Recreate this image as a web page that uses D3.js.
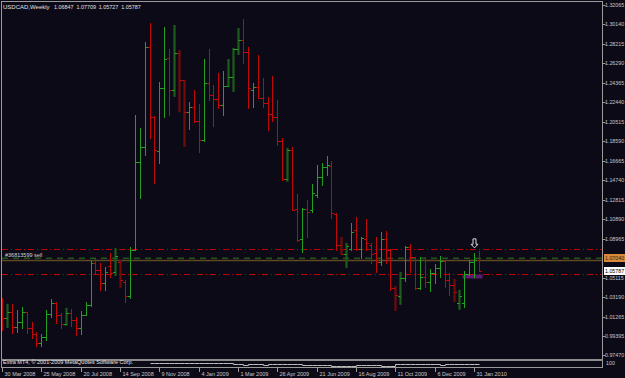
<!DOCTYPE html>
<html>
<head>
<meta charset="utf-8">
<script src="https://cdn.jsdelivr.net/npm/d3@7"></script>
<style>
  html, body { margin: 0; padding: 0; background: #0d0a18; }
  svg { display: block; }
</style>
</head>
<body>
<div id="chart"></div>
<script>
// weekly USDCAD bars, 30 Mar 2008 .. 7 Feb 2010
const symbol = "USDCAD,Weekly";
const firstWeek = "30 Mar 2008";
const lastWeek = "7 Feb 2010";

const opens = [1.0243,1.0114,1.0173,1.0025,1.0075,1.0173,1.0015,0.9956,0.9867,0.9926,
  1.0154,1.0262,1.0144,1.0055,1.0164,1.0094,1.0015,1.0144,1.0243,1.0658,
  1.0588,1.0460,1.0628,1.0569,1.0667,1.0470,1.0332,1.0786,1.1655,1.1804,
  1.2792,1.2100,1.1764,1.2387,1.2683,1.2367,1.2732,1.2466,1.2149,1.2199,
  1.2061,1.1873,1.2436,1.2317,1.2278,1.2219,1.2406,1.2495,1.2772,1.2861,
  1.2742,1.2367,1.2396,1.2288,1.2238,1.2130,1.2100,1.1863,1.1488,1.1774,
  1.1191,1.0895,1.1191,1.1181,1.1329,1.1507,1.1606,1.1616,1.1142,1.0835,
  1.0747,1.0796,1.0984,1.0796,1.0895,1.0835,1.0756,1.0667,1.0895,1.0786,
  1.0411,1.0332,1.0509,1.0816,1.0717,1.0411,1.0519,1.0470,1.0559,1.0608,
  1.0677,1.0490,1.0440,1.0262,1.0262,1.0549,1.0667,1.06847];

const highs = [1.0312,1.0253,1.0253,1.0193,1.0223,1.0173,1.0075,0.9976,0.9956,1.0193,
  1.0302,1.0272,1.0164,1.0213,1.0203,1.0124,1.0183,1.0272,1.0677,1.0707,
  1.0658,1.0618,1.0756,1.0806,1.0687,1.0490,1.0816,1.2120,1.1991,1.2841,
  1.3029,1.2110,1.2446,1.2989,1.2772,1.3009,1.2762,1.2466,1.2248,1.2367,
  1.2229,1.2673,1.2772,1.2416,1.2535,1.2555,1.2673,1.2782,1.2979,1.3068,
  1.2792,1.2436,1.2713,1.2485,1.2298,1.2505,1.2268,1.1893,1.1794,1.1804,
  1.1339,1.1201,1.1280,1.1438,1.1626,1.1646,1.1715,1.1665,1.1152,1.0914,
  1.0855,1.1053,1.1112,1.0914,1.1092,1.0855,1.0914,1.0964,1.0974,1.0796,
  1.0430,1.0569,1.0826,1.0845,1.0717,1.0717,1.0717,1.0598,1.0648,1.0727,
  1.0677,1.0559,1.0500,1.0391,1.0579,1.0687,1.0756,1.07709];

const lows = [0.9996,1.0015,0.9966,0.9976,1.0015,0.9966,0.9917,0.9838,0.9838,0.9897,
  1.0124,1.0065,1.0015,1.0035,1.0035,0.9946,0.9956,1.0144,1.0233,1.0549,
  1.0391,1.0391,1.0519,1.0529,1.0411,1.0272,1.0312,1.0786,1.1300,1.1725,
  1.1893,1.1448,1.1646,1.2100,1.2120,1.2298,1.2149,1.1804,1.1981,1.2051,
  1.1754,1.1863,1.2268,1.2011,1.2189,1.2120,1.2396,1.2347,1.2713,1.2634,
  1.2189,1.2199,1.2288,1.2199,1.1972,1.2061,1.1823,1.1478,1.1458,1.1181,
  1.0875,1.0766,1.0914,1.1161,1.1310,1.1428,1.1527,1.1102,1.0786,1.0737,
  1.0608,1.0786,1.0786,1.0707,1.0786,1.0658,1.0569,1.0638,1.0658,1.0391,
  1.0183,1.0243,1.0480,1.0569,1.0401,1.0401,1.0420,1.0381,1.0460,1.0519,
  1.0420,1.0341,1.0272,1.0193,1.0223,1.0539,1.0519,1.05727];

const closes = [1.0114,1.0173,1.0025,1.0075,1.0173,1.0015,0.9956,0.9867,0.9926,1.0154,
  1.0262,1.0144,1.0055,1.0164,1.0094,1.0015,1.0144,1.0243,1.0658,1.0588,
  1.0460,1.0569,1.0559,1.0727,1.0490,1.0332,1.0786,1.1655,1.1804,1.2792,
  1.2100,1.1774,1.2387,1.2673,1.2367,1.2732,1.2466,1.2149,1.2199,1.2061,
  1.1873,1.2436,1.2317,1.2278,1.2219,1.2406,1.2495,1.2772,1.2861,1.2742,
  1.2387,1.2396,1.2288,1.2238,1.2130,1.2100,1.1863,1.1488,1.1774,1.1181,
  1.0885,1.1191,1.1161,1.1349,1.1507,1.1606,1.1626,1.1152,1.0835,1.0747,
  1.0826,1.0964,1.0796,1.0905,1.0855,1.0747,1.0667,1.0895,1.0786,1.0411,
  1.0341,1.0509,1.0816,1.0717,1.0411,1.0519,1.0470,1.0559,1.0608,1.0677,
  1.0490,1.0440,1.0371,1.0332,1.0549,1.0667,1.0685,1.05787];

// bars painted thick/dark by the indicator
const heavyBars = [1, 13, 23, 24, 35, 36, 37, 46, 47, 48, 58, 69, 70, 80, 81, 92, 93];

const dateLabels = ["30 Mar 2008", "25 May 2008", "20 Jul 2008", "14 Sep 2008", "9 Nov 2008",
  "4 Jan 2009", "1 Mar 2009", "26 Apr 2009", "21 Jun 2009", "16 Aug 2009",
  "11 Oct 2009", "6 Dec 2009", "31 Jan 2010"];

const priceLabels = [1.32065, 1.30140, 1.28215, 1.26290, 1.24365, 1.22440, 1.20515, 1.18590,
  1.16665, 1.14740, 1.12815, 1.10890, 1.08965, 1.05115, 1.03190, 1.01265, 0.99395, 0.97470];

// small indicator window line, starts at bar 30
const extraStart = 30;
const extraLine = [62,63,61,62,64,62,61,63,62,64,
  72,71,73,72,70,72,71,
  42,44,40,43,42,45,41,42,44,
  50,52,49,51,50,
  33,35,32,34,33,31,
  22,24,21,23,22,
  33,34,32,35,33,
  22,23,21,
  50,51,49,52,50,48,51,
  42,43,41,44,42,
  50,52,51,49,50,51];

const orderLabel = "#36813599 sell";
const orderPrice = 1.07040;
const orderBase = 1.0688;
const stopPrice = 1.0796;
const targetPrice = 1.0549;
const boxWeeks = ["17 Jan 2010", "14 Feb 2010"];
const boxPrices = [1.0549, 1.0509];
const arrowWeek = "31 Jan 2010";
const arrowPrices = [1.0895, 1.0806];
const copyright = "Extra MT4, \u00a9 2001-2009 MetaQuotes Software Corp.";

const W = 625, H = 378;
const plotRight = 603, plotBottom = 358;
const font = "'Liberation Sans', Arial, sans-serif";
const textColor = "#c8c8c8";
const upColor = "#22a022", downColor = "#c00808";

const parseDay = d3.utcParse("%d %b %Y");
const weeks = d3.utcWeek.range(parseDay(firstWeek), d3.utcDay.offset(parseDay(lastWeek), 1));

const bars = weeks.map((d, i) => ({
  date: d, open: opens[i], high: highs[i], low: lows[i], close: closes[i],
  up: closes[i] >= opens[i], heavy: heavyBars.includes(i)
}));

const x = d3.scaleUtc().domain([weeks[0], weeks[weeks.length - 1]]).range([2, 479]);
const y = d3.scaleLinear().domain([0.97470, 1.32065]).range([355, 5]);
const yExtra = d3.scaleLinear().domain([0, 100]).range([367, 361]);

const px = d => Math.round(x(d)) + 0.5;
const py = v => Math.round(y(v)) + 0.5;

const svg = d3.select("#chart").append("svg")
  .attr("width", W)
  .attr("height", H)
  .style("font-family", font);

svg.append("rect").attr("width", W).attr("height", H).attr("fill", "#0d0a18");

svg.append("clipPath").attr("id", "plot")
  .append("rect").attr("x", 2).attr("y", 2).attr("width", plotRight - 2).attr("height", plotBottom - 2);

const plot = svg.append("g").attr("clip-path", "url(#plot)");

// purple box behind the bars
plot.append("rect")
  .attr("x", px(parseDay(boxWeeks[0])) - 2)
  .attr("y", py(boxPrices[0]))
  .attr("width", px(parseDay(boxWeeks[1])) - px(parseDay(boxWeeks[0])))
  .attr("height", py(boxPrices[1]) - py(boxPrices[0]))
  .attr("fill", "#5c1a70");

// order lines
plot.append("line")
  .attr("x1", 2).attr("x2", plotRight)
  .attr("y1", py(orderBase)).attr("y2", py(orderBase))
  .attr("stroke", "#5e4a22").attr("stroke-width", 1.5);
plot.append("line")
  .attr("x1", 2).attr("x2", plotRight)
  .attr("y1", y(orderPrice)).attr("y2", y(orderPrice))
  .attr("stroke", "#23521a").attr("stroke-width", 1.6)
  .attr("stroke-dasharray", "6,5");

[stopPrice, targetPrice].forEach(p => {
  plot.append("line")
    .attr("x1", 2).attr("x2", plotRight)
    .attr("y1", py(p)).attr("y2", py(p))
    .attr("stroke", "#c00000")
    .attr("stroke-dasharray", "6,3,1,3");
});

// OHLC bars
const g = plot.append("g").selectAll("g")
  .data(bars)
  .join("g");

g.filter(d => d.heavy).append("line")
  .attr("x1", d => Math.round(x(d.date)) + 0.5)
  .attr("x2", d => Math.round(x(d.date)) + 0.5)
  .attr("y1", d => y(d.high))
  .attr("y2", d => y(d.low))
  .attr("stroke", d => d.up ? "#1b5c1b" : "#6e0c0c")
  .attr("stroke-width", 2.2);

g.filter(d => !d.heavy).append("line")
  .attr("x1", d => px(d.date))
  .attr("x2", d => px(d.date))
  .attr("y1", d => Math.round(y(d.high)))
  .attr("y2", d => Math.round(y(d.low)) + 1)
  .attr("stroke", d => d.up ? upColor : downColor);

g.append("line")
  .attr("x1", d => px(d.date) - 2.5)
  .attr("x2", d => px(d.date))
  .attr("y1", d => py(d.open))
  .attr("y2", d => py(d.open))
  .attr("stroke", d => d.up ? upColor : downColor);

g.append("line")
  .attr("x1", d => px(d.date))
  .attr("x2", d => px(d.date) + 2.5)
  .attr("y1", d => py(d.close))
  .attr("y2", d => py(d.close))
  .attr("stroke", d => d.up ? upColor : downColor);

// arrow marker above the 31 Jan bar
const ax = px(parseDay(arrowWeek));
const aTop = y(arrowPrices[0]), aTip = y(arrowPrices[1]);
const aNeck = aTop + (aTip - aTop) * 0.6;
plot.append("path")
  .attr("d", `M${ax - 1.5},${aTop} L${ax + 1.5},${aTop} L${ax + 1.5},${aNeck} L${ax + 3.5},${aNeck} L${ax},${aTip} L${ax - 3.5},${aNeck} L${ax - 1.5},${aNeck} Z`)
  .attr("fill", "#0d0a18")
  .attr("stroke", "#d8d8d8")
  .attr("stroke-width", 1);

// order label
plot.append("text")
  .attr("x", 5).attr("y", y(orderPrice) - 1)
  .attr("font-size", 5.5)
  .attr("fill", "#d0d0d0")
  .text(orderLabel);

// header
svg.append("text")
  .attr("x", 3).attr("y", 8.5)
  .attr("font-size", 6)
  .attr("fill", "#e0e0e0")
  .text(symbol);
[opens[97], highs[97], lows[97], closes[97]].forEach((v, i) => {
  svg.append("text")
    .attr("x", 54 + i * 22.4).attr("y", 8.5)
    .attr("font-size", 5.4)
    .attr("fill", "#e0e0e0")
    .text(d3.format(".5f")(v));
});

// frame
const frame = svg.append("g").attr("stroke", "#9a9a9a").attr("fill", "none");
frame.append("line").attr("x1", 1).attr("x2", plotRight).attr("y1", 1.5).attr("y2", 1.5);
frame.append("line").attr("x1", 1.5).attr("x2", 1.5).attr("y1", 1).attr("y2", 367.5);
frame.append("line").attr("x1", plotRight - 0.5).attr("x2", plotRight - 0.5).attr("y1", 1).attr("y2", 368);
frame.append("line").attr("x1", 1).attr("x2", plotRight).attr("y1", 367.5).attr("y2", 367.5);
svg.append("rect").attr("x", 1).attr("y", 359).attr("width", plotRight - 1).attr("height", 2).attr("fill", "#8c8c8c");

// price axis
const yAxis = svg.append("g");
priceLabels.forEach(v => {
  yAxis.append("line")
    .attr("x1", plotRight).attr("x2", plotRight + 2.5)
    .attr("y1", py(v)).attr("y2", py(v))
    .attr("stroke", "#9a9a9a");
  yAxis.append("text")
    .attr("x", 605).attr("y", y(v) + 2)
    .attr("font-size", 5.3)
    .attr("fill", textColor)
    .text(d3.format(".5f")(v));
});

function priceBox(v, fill, color) {
  yAxis.append("rect")
    .attr("x", 604).attr("y", Math.round(y(v)) - 4)
    .attr("width", 21).attr("height", 8)
    .attr("fill", fill);
  yAxis.append("text")
    .attr("x", 605).attr("y", y(v) + 2)
    .attr("font-size", 5.3)
    .attr("fill", color)
    .text(d3.format(".5f")(v));
}
priceBox(orderPrice, "#d8893a", "#402008");
priceBox(closes[97], "#ffffff", "#000000");

// indicator window
svg.append("path")
  .datum(extraLine)
  .attr("d", d3.line()
    .x((d, i) => px(weeks[extraStart + i]))
    .y(d => Math.round(yExtra(d)) + 0.5)
    .curve(d3.curveStepAfter))
  .attr("fill", "none")
  .attr("stroke", "#bdbdbd");

svg.append("text")
  .attr("x", 3).attr("y", 364)
  .attr("font-size", 5.5)
  .attr("fill", "#e6e6e6")
  .text(copyright);

svg.append("text")
  .attr("x", 606).attr("y", 365)
  .attr("font-size", 5.3)
  .attr("fill", textColor)
  .text("100");

// time axis
const xAxis = svg.append("g");
dateLabels.forEach(s => {
  const tx = px(parseDay(s));
  xAxis.append("line")
    .attr("x1", tx).attr("x2", tx)
    .attr("y1", 368).attr("y2", 372)
    .attr("stroke", "#9a9a9a");
  xAxis.append("text")
    .attr("x", tx + 2).attr("y", 376)
    .attr("font-size", 5.5)
    .attr("fill", textColor)
    .text(s);
});
</script>
</body>
</html>
